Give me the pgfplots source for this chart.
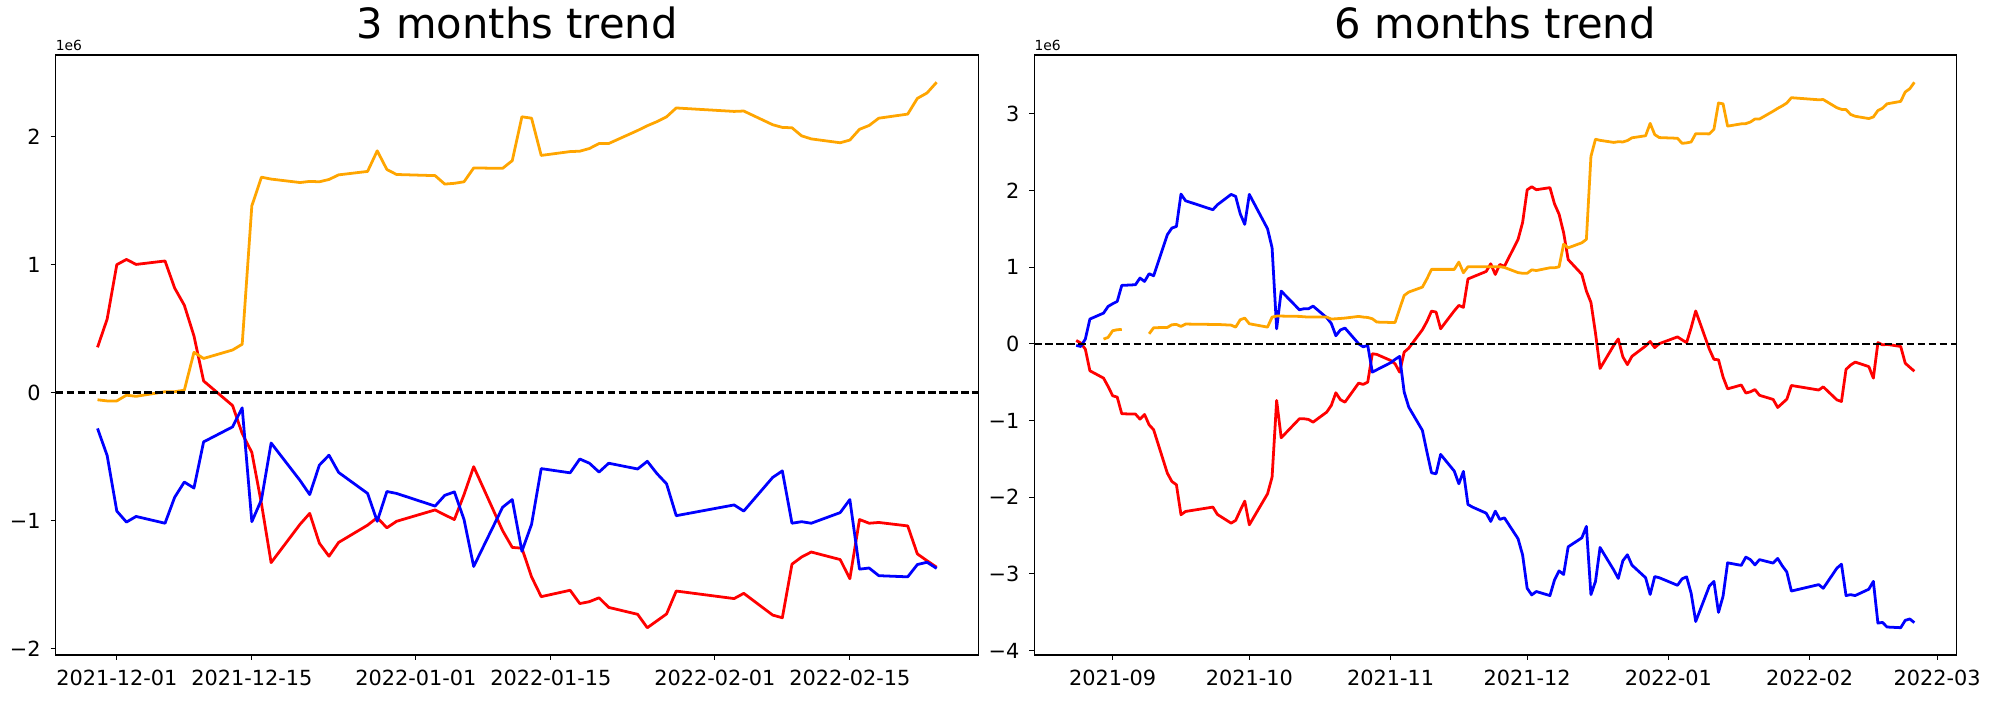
\documentclass[border=0pt]{standalone}
\usepackage{fontspec}
\setmainfont{DejaVu Sans}
\usepackage{pgfplots}
\usepackage{pgfplotstable}
\pgfplotsset{compat=1.18}

\definecolor{mplred}{RGB}{255,0,0}
\definecolor{mplblue}{RGB}{0,0,255}
\definecolor{mplorange}{RGB}{255,165,0}

% 3 months: d = days since 2021-12-01, values in 1e6
\pgfplotstableread{
d red blue orange
-2 0.353 -0.281 -0.057
-1 0.574 -0.493 -0.066
0 0.999 -0.927 -0.066
1 1.040 -1.013 -0.021
2 1.001 -0.969 -0.030
5 1.028 -1.022 0.006
6 0.816 -0.819 0.006
7 0.682 -0.700 0.018
8 0.442 -0.747 0.314
9 0.090 -0.386 0.266
12 -0.102 -0.269 0.332
13 -0.320 -0.120 0.377
14 -0.469 -1.010 1.459
15 -0.870 -0.837 1.683
16 -1.330 -0.395 1.668
19 -1.030 -0.688 1.641
20 -0.945 -0.798 1.650
21 -1.178 -0.568 1.647
22 -1.280 -0.490 1.665
23 -1.172 -0.625 1.701
26 -1.037 -0.789 1.728
27 -0.978 -1.007 1.889
28 -1.058 -0.774 1.743
29 -1.007 -0.789 1.704
33 -0.918 -0.888 1.695
34 -0.957 -0.804 1.629
35 -0.993 -0.777 1.635
36 -0.798 -0.993 1.647
37 -0.580 -1.360 1.755
40 -1.080 -0.897 1.752
41 -1.211 -0.837 1.812
42 -1.217 -1.241 2.155
43 -1.441 -1.031 2.144
44 -1.596 -0.595 1.853
47 -1.546 -0.628 1.883
48 -1.650 -0.520 1.886
49 -1.635 -0.553 1.907
50 -1.605 -0.622 1.946
51 -1.680 -0.553 1.946
54 -1.734 -0.598 2.048
55 -1.839 -0.538 2.085
56 -1.785 -0.634 2.117
57 -1.731 -0.714 2.155
58 -1.552 -0.963 2.224
64 -1.611 -0.879 2.197
65 -1.570 -0.927 2.200
68 -1.740 -0.664 2.093
69 -1.761 -0.613 2.072
70 -1.342 -1.022 2.069
71 -1.286 -1.010 2.006
72 -1.247 -1.022 1.982
75 -1.306 -0.939 1.952
76 -1.456 -0.837 1.973
77 -0.993 -1.381 2.057
78 -1.022 -1.372 2.087
79 -1.016 -1.432 2.144
82 -1.043 -1.441 2.176
83 -1.262 -1.345 2.299
84 -1.315 -1.327 2.341
85 -1.366 -1.375 2.425
}\threemonths

% 6 months: t = days since 2021-09-01, values in 1e6
\pgfplotstableread{
t red blue orange
-8 0.043 -0.022 nan
-7 0.009 -0.035 nan
-6 -0.070 0.061 nan
-5 -0.352 0.322 nan
-2 -0.448 0.400 0.061
-1 -0.557 0.487 0.083
0 -0.678 0.522 0.170
1 -0.696 0.552 0.183
2 -0.913 0.761 0.187
5 -0.917 0.770 nan
6 -0.983 0.857 nan
7 -0.922 0.813 nan
8 -1.057 0.913 0.130
9 -1.122 0.887 0.209
12 -1.687 1.422 0.213
13 -1.796 1.509 0.248
14 -1.839 1.530 0.252
15 -2.230 1.952 0.226
16 -2.187 1.865 0.257
22 -2.130 1.748 0.252
23 -2.226 1.813 0.252
26 -2.339 1.948 0.243
27 -2.304 1.922 0.217
28 -2.174 1.696 0.313
29 -2.052 1.557 0.335
30 -2.361 1.948 0.261
34 -1.957 1.500 0.217
35 -1.739 1.252 0.348
36 -0.739 0.196 0.361
37 -1.226 0.687 0.361
41 -0.978 0.443 0.357
42 -0.978 0.457 0.352
43 -0.987 0.457 0.348
44 -1.022 0.491 0.348
47 -0.891 0.340 0.348
48 -0.804 0.265 0.322
49 -0.639 0.105 0.326
50 -0.730 0.180 0.330
51 -0.761 0.205 0.335
54 -0.513 0.000 0.357
55 -0.530 -0.040 0.348
56 -0.500 -0.020 0.343
57 -0.130 -0.370 0.326
58 -0.139 -0.339 0.283
61 -0.217 -0.248 0.278
62 -0.261 -0.204 0.278
63 -0.370 -0.165 0.456
64 -0.109 -0.630 0.630
65 -0.057 -0.826 0.674
68 0.183 -1.130 0.739
69 0.291 -1.413 0.848
70 0.426 -1.683 0.970
71 0.413 -1.696 0.970
72 0.196 -1.443 0.970
75 0.430 -1.661 0.970
76 0.500 -1.826 1.065
77 0.475 -1.665 0.926
78 0.845 -2.096 1.005
79 0.870 -2.130 1.005
82 0.943 -2.209 1.005
83 1.043 -2.317 1.005
84 0.904 -2.183 1.005
85 1.035 -2.291 1.005
86 1.009 -2.270 0.995
89 1.361 -2.543 0.928
90 1.582 -2.755 0.919
91 2.007 -3.189 0.919
92 2.048 -3.275 0.964
93 2.009 -3.231 0.955
96 2.036 -3.284 0.991
97 1.824 -3.081 0.991
98 1.690 -2.962 1.003
99 1.450 -3.009 1.299
100 1.098 -2.648 1.251
103 0.906 -2.531 1.317
104 0.688 -2.382 1.362
105 0.539 -3.272 2.444
106 0.138 -3.099 2.668
107 -0.322 -2.657 2.653
110 -0.022 -2.950 2.626
111 0.063 -3.060 2.635
112 -0.170 -2.830 2.632
113 -0.272 -2.752 2.650
114 -0.164 -2.887 2.686
117 -0.029 -3.051 2.713
118 0.030 -3.269 2.874
119 -0.050 -3.036 2.728
120 0.001 -3.051 2.689
124 0.090 -3.150 2.680
125 0.051 -3.066 2.614
126 0.015 -3.039 2.620
127 0.210 -3.255 2.632
128 0.428 -3.622 2.740
131 -0.072 -3.159 2.737
132 -0.203 -3.099 2.797
133 -0.209 -3.503 3.140
134 -0.433 -3.293 3.129
135 -0.588 -2.857 2.838
138 -0.538 -2.890 2.868
139 -0.642 -2.782 2.871
140 -0.627 -2.815 2.892
141 -0.597 -2.884 2.931
142 -0.672 -2.815 2.931
145 -0.726 -2.860 3.033
146 -0.831 -2.800 3.070
147 -0.777 -2.896 3.102
148 -0.723 -2.976 3.140
149 -0.544 -3.225 3.209
155 -0.603 -3.141 3.182
156 -0.562 -3.189 3.185
159 -0.732 -2.926 3.078
160 -0.753 -2.875 3.057
161 -0.334 -3.284 3.054
162 -0.278 -3.272 2.991
163 -0.239 -3.284 2.967
166 -0.298 -3.201 2.937
167 -0.448 -3.099 2.958
168 0.015 -3.643 3.042
169 -0.014 -3.634 3.072
170 -0.008 -3.694 3.129
173 -0.035 -3.703 3.161
174 -0.254 -3.607 3.284
175 -0.307 -3.589 3.326
176 -0.358 -3.637 3.410
}\sixmonths

\pgfplotsset{
  trend/.style={
    scale only axis,
    height=432pt,
    anchor=south west,
    axis line style={line width=0.8pt},
    every tick/.style={black, line width=0.8pt},
    tick align=outside,
    major tick length=3.5pt,
    xtick pos=bottom, ytick pos=left,
    tick label style={font=\fontsize{15}{18}\selectfont},
    xticklabel style={anchor=north, inner sep=0pt, yshift=-7pt},
    yticklabel style={anchor=east, inner sep=0pt, xshift=-7pt},
    title style={font=\fontsize{30}{36}\selectfont, at={(0.5,1)}, anchor=base, yshift=6pt, inner sep=0pt},
    unbounded coords=jump,
    clip mode=individual,
    every axis plot/.append style={line width=2pt, line join=round, no markers},
  },
  zeroline/.style={black, line width=1.5pt, dash pattern=on 5.55pt off 2.4pt},
}
\tikzset{
  offsettext/.style={anchor=base west, inner sep=0pt, font=\fontsize{10}{12}\selectfont, yshift=3pt},
}

\begin{document}
\begin{tikzpicture}
\path[use as bounding box] (0,0) rectangle (1440pt,504pt);

\begin{axis}[trend,
  at={(40pt,32.4pt)}, width=664.6pt,
  xmin=-6.35, xmax=89.35, ymin=-2.052, ymax=2.638,
  xtick={0,14,31,45,62,76},
  xticklabels={2021-12-01,2021-12-15,2022-01-01,2022-01-15,2022-02-01,2022-02-15},
  ytick={-2,-1,0,1,2},
  yticklabels={−2,−1,0,1,2},
  title={3 months trend}]
\addplot[mplred] table[x=d, y=red] {\threemonths};
\addplot[mplblue] table[x=d, y=blue] {\threemonths};
\addplot[mplorange] table[x=d, y=orange] {\threemonths};
\addplot[zeroline] coordinates {(-6.35,0) (89.35,0)};
\node[offsettext] at (rel axis cs:0,1) {1e6};
\end{axis}

\begin{axis}[trend,
  at={(744.7pt,32.4pt)}, width=663.8pt,
  xmin=-17.2, xmax=185.2, ymin=-4.059, ymax=3.766,
  xtick={0,30,61,91,122,153,181},
  xticklabels={2021-09,2021-10,2021-11,2021-12,2022-01,2022-02,2022-03},
  ytick={-4,-3,-2,-1,0,1,2,3},
  yticklabels={−4,−3,−2,−1,0,1,2,3},
  title={6 months trend}]
\addplot[mplred] table[x=t, y=red] {\sixmonths};
\addplot[mplblue] table[x=t, y=blue] {\sixmonths};
\addplot[mplorange] table[x=t, y=orange] {\sixmonths};
\addplot[zeroline] coordinates {(-17.2,0) (185.2,0)};
\node[offsettext] at (rel axis cs:0,1) {1e6};
\end{axis}
\end{tikzpicture}
\end{document}
